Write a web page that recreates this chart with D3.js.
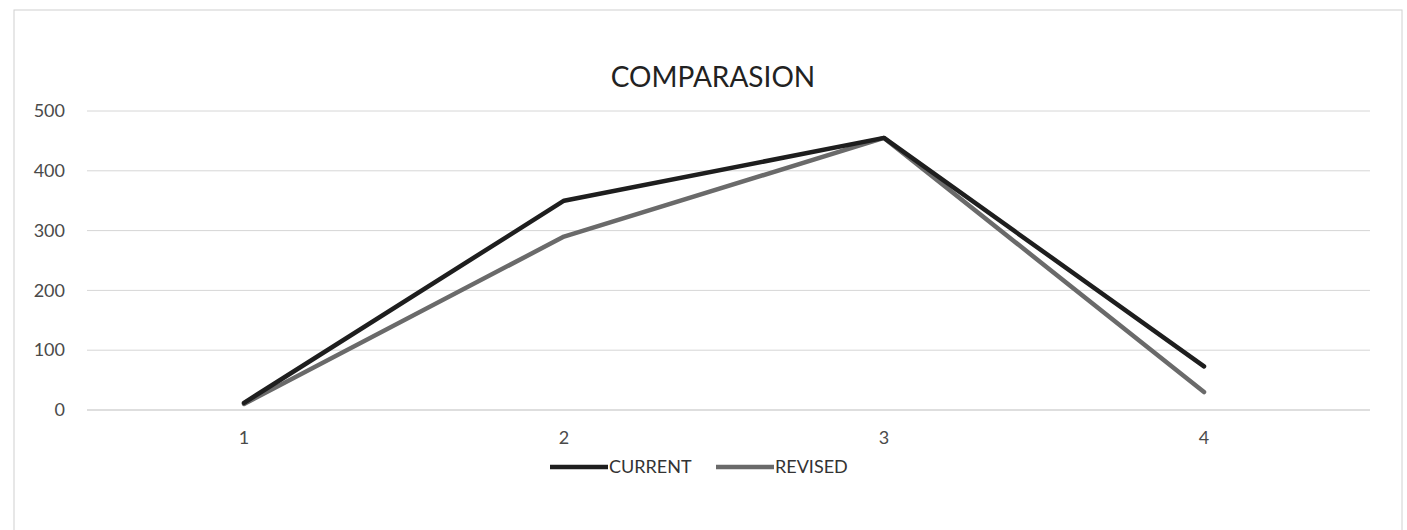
<!DOCTYPE html>
<html>
<head>
<meta charset="utf-8">
<script src="https://cdn.jsdelivr.net/npm/d3@7"></script>
<style>
  body { margin: 0; background: #fff; }
  text { font-family: Lato, "Open Sans", sans-serif; }
</style>
</head>
<body>
<div id="chart"></div>
<script>
// data
var categories = ["1", "2", "3", "4"];
var currentVals = [12, 350, 455, 73];
var revisedVals = [10, 290, 455, 30];
var yTicks = [0, 100, 200, 300, 400, 500];
var seriesNames = ["CURRENT", "REVISED"];

var W = 1407, H = 530;
var margin = { top: 111, right: 43, bottom: 120, left: 84 };
var plotW = W - margin.left - margin.right;
var plotH = H - margin.top - margin.bottom;

var svg = d3.select("#chart").append("svg")
  .attr("width", W)
  .attr("height", H);

// outer chart frame
svg.append("rect")
  .attr("x", 14).attr("y", 10)
  .attr("width", 1388).attr("height", 540)
  .attr("fill", "none")
  .attr("stroke", "#d0d0d0")
  .attr("stroke-width", 1);

var g = svg.append("g")
  .attr("transform", "translate(" + margin.left + "," + margin.top + ")");

var x = d3.scaleBand().domain(categories).range([0, plotW]);
var y = d3.scaleLinear().domain([0, 500]).range([plotH, 0]);

// gridlines
g.append("g")
  .selectAll("line")
  .data(yTicks)
  .enter().append("line")
  .attr("x1", 3).attr("x2", plotW + 6)
  .attr("y1", function(d) { return y(d); })
  .attr("y2", function(d) { return y(d); })
  .attr("stroke", function(d) { return d === 0 ? "#bdbdbd" : "#d6d6d6"; })
  .attr("stroke-width", 1);

// y labels
var yAxis = d3.axisLeft(y).tickValues(yTicks).tickSize(0).tickPadding(19);
g.append("g")
  .call(yAxis)
  .call(function(s) { s.select(".domain").remove(); })
  .selectAll("text")
  .attr("font-size", "18px")
  .attr("fill", "#4a4a4a");

// x labels
var xAxis = d3.axisBottom(x).tickSize(0).tickPadding(21);
g.append("g")
  .attr("transform", "translate(0," + plotH + ")")
  .call(xAxis)
  .call(function(s) { s.select(".domain").remove(); })
  .selectAll("text")
  .attr("font-size", "18px")
  .attr("fill", "#4a4a4a");

var line = d3.line()
  .x(function(d, i) { return x(categories[i]) + x.bandwidth() / 2; })
  .y(function(d) { return y(d); });

// revised under, current on top
g.append("path")
  .datum(revisedVals)
  .attr("d", line)
  .attr("fill", "none")
  .attr("stroke", "#6a6a6a")
  .attr("stroke-width", 4.5)
  .attr("stroke-linejoin", "round")
  .attr("stroke-linecap", "round");

g.append("path")
  .datum(currentVals)
  .attr("d", line)
  .attr("fill", "none")
  .attr("stroke", "#1e1e1e")
  .attr("stroke-width", 4.5)
  .attr("stroke-linejoin", "round")
  .attr("stroke-linecap", "round");

// title
svg.append("text")
  .attr("x", 713).attr("y", 87)
  .attr("text-anchor", "middle")
  .attr("font-size", "28px")
  .attr("fill", "#222")
  .text("COMPARASION");

// legend
var legendColors = ["#1e1e1e", "#6a6a6a"];
var legendX = [550, 716];
var legend = svg.append("g").selectAll("g")
  .data(seriesNames)
  .enter().append("g")
  .attr("transform", function(d, i) { return "translate(" + legendX[i] + ",467)"; });
legend.append("line")
  .attr("x1", 0).attr("x2", 58)
  .attr("y1", 0).attr("y2", 0)
  .attr("stroke", function(d, i) { return legendColors[i]; })
  .attr("stroke-width", 4.5);
legend.append("text")
  .attr("x", 59).attr("y", 6)
  .attr("font-size", "18px")
  .attr("fill", "#333")
  .text(function(d) { return d; });
</script>
</body>
</html>
